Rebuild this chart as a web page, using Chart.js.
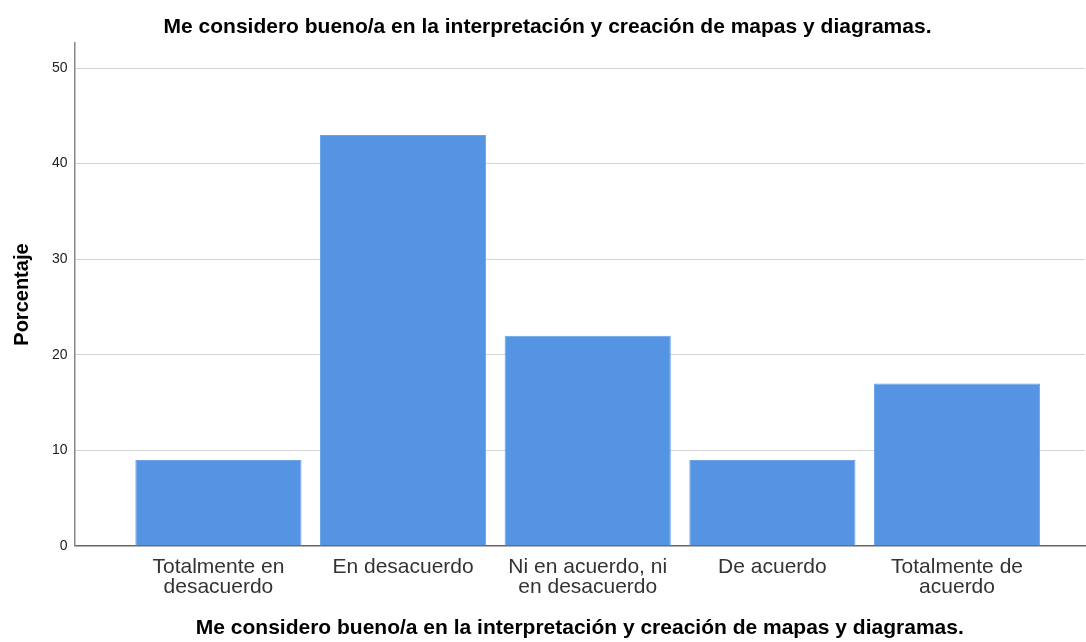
<!DOCTYPE html>
<html>
<head>
<meta charset="utf-8">
<script src="https://cdn.jsdelivr.net/npm/chart.js@4"></script>
<style>
  html, body { margin: 0; padding: 0; background: #fff; }
  #wrap { width: 1086px; height: 642px; }
</style>
</head>
<body>
<div id="wrap"><canvas id="myChart" width="1086" height="642"></canvas></div>
<script>
const categories = [
  ['Totalmente en', 'desacuerdo'],
  'En desacuerdo',
  ['Ni en acuerdo, ni', 'en desacuerdo'],
  'De acuerdo',
  ['Totalmente de', 'acuerdo']
];
const percentages = [9, 43, 22, 9, 17];
const yTicks = [0, 10, 20, 30, 40, 50];
const titleText = 'Me considero bueno/a en la interpretación y creación de mapas y diagramas.';

window.addEventListener('load', setup);

function setup() {
  const ctx = document.getElementById('myChart').getContext('2d');
  const points = percentages.map((v, i) => ({ x: i + 1, y: v }));

  new Chart(ctx, {
    type: 'bar',
    data: {
      datasets: [{
        label: 'Porcentaje',
        data: points,
        backgroundColor: '#5594e3',
        borderColor: '#6aa3e8',
        borderWidth: 1,
        barPercentage: 0.9,
        categoryPercentage: 1.0
      }]
    },
    options: {
      responsive: false,
      animation: false,
      layout: { padding: { left: 10, right: 1, top: 0, bottom: 0 } },
      plugins: {
        legend: { display: false },
        tooltip: { enabled: false },
        title: {
          display: true,
          text: titleText,
          color: '#000',
          font: { family: 'Liberation Sans', size: 21, weight: 'bold', lineHeight: 1.2 },
          padding: { top: 15, bottom: 3 }
        }
      },
      scales: {
        x: {
          type: 'linear',
          min: 0.221,
          max: 5.693,
          offset: false,
          afterBuildTicks: axis => {
            axis.ticks = categories.map((c, i) => ({ value: i + 1 }));
          },
          ticks: {
            autoSkip: false,
            maxRotation: 0,
            color: '#333',
            font: { family: 'Liberation Sans', size: 21, lineHeight: 0.95 },
            padding: 11,
            callback: v => categories[v - 1]
          },
          grid: { display: false, drawTicks: false },
          border: { color: '#666', width: 1.5 },
          title: {
            display: true,
            text: titleText,
            color: '#000',
            font: { family: 'Liberation Sans', size: 21, weight: 'bold', lineHeight: 1.2 },
            padding: { top: 8, bottom: 1 }
          }
        },
        y: {
          min: 0,
          max: 52.6,
          afterBuildTicks: axis => {
            axis.ticks = yTicks.map(v => ({ value: v }));
          },
          ticks: {
            color: '#222',
            font: { family: 'Liberation Sans', size: 14 },
            padding: 7
          },
          grid: { color: '#d4d4d4', drawTicks: false },
          border: { color: '#888', width: 1.5 },
          title: {
            display: true,
            text: 'Porcentaje',
            color: '#000',
            font: { family: 'Liberation Sans', size: 20, weight: 'bold', lineHeight: 1.2 },
            padding: { top: 0, bottom: 11 }
          }
        }
      }
    }
  });
}
</script>
</body>
</html>
